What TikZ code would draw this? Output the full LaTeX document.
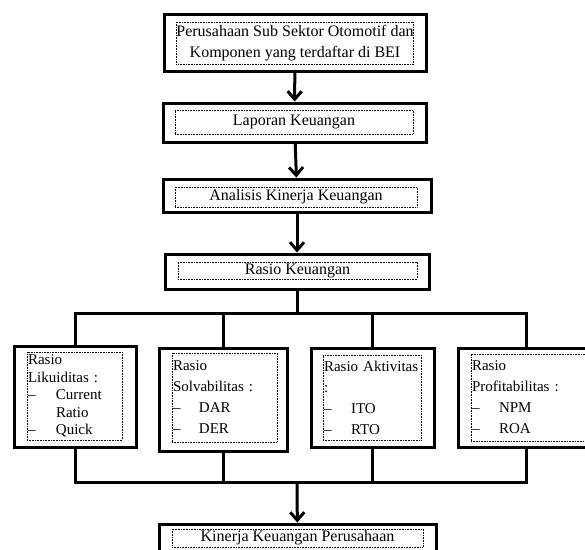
\documentclass[tikz,border=0pt]{standalone}
\usepackage{fontspec}
\setmainfont{Liberation Serif}
\usepackage{tikz}
\usetikzlibrary{arrows.meta, positioning}

\begin{document}
\begin{tikzpicture}[
    x=1pt, y=-1pt,
    frame/.style={draw, line width=3pt, inner sep=0pt},
    label/.style={draw, densely dotted, line width=0.6pt, inner sep=0pt,
                  align=center, font=\fontsize{16}{21}\selectfont},
    ratio/.style={draw, densely dotted, line width=0.6pt, inner xsep=1pt,
                  inner ysep=0pt, align=left, font=\fontsize{15}{21}\selectfont},
    conn/.style={line width=3pt},
    >={Straight Barb[length=8pt, width=14pt]}
  ]
    \useasboundingbox (0,0) rectangle (585,549);
    \clip (0,0) rectangle (585,549);

    \node[frame, minimum width=262pt, minimum height=57pt] (emiten) at (295,42.5) {};
    \node[label, minimum width=236pt, minimum height=42pt] (emitentxt) at (295,43)
      {Perusahaan Sub Sektor Otomotif dan\\Komponen yang terdaftar di BEI};

    \node[frame, minimum width=263pt, minimum height=39pt] (laporan) at (294.5,122.5) {};
    \node[label, minimum width=238pt, minimum height=24pt] (laporantxt) at (294,122)
      {Laporan Keuangan};

    \node[frame, minimum width=268pt, minimum height=33pt] (analisis) at (297,195.5) {};
    \node[label, minimum width=242pt, minimum height=20pt] (analisistxt) at (296,197)
      {Analisis Kinerja Keuangan};

    \node[frame, minimum width=264pt, minimum height=35pt] (rasio) at (297,271.5) {};
    \node[label, minimum width=239pt, minimum height=17pt] (rasiotxt) at (297.5,270.5)
      {Rasio Keuangan};

    \node[frame, minimum width=122pt, minimum height=101pt] (likuid) at (75,396.5) {};
    \node[ratio, text width=93pt, minimum height=88pt,
          font=\fontsize{15}{17.5}\selectfont] (likuidtxt) at (74.5,396)
      {Rasio\\Likuiditas :\\\makebox[28pt][l]{–}Current\\\hspace*{28pt}Ratio\\\makebox[28pt][l]{–}Quick};

    \node[frame, minimum width=128pt, minimum height=103pt] (solva) at (223,399.5) {};
    \node[ratio, text width=103pt, minimum height=89pt] (solvatxt) at (224.5,397.5)
      {Rasio\\Solvabilitas :\\\makebox[26pt][l]{–}DAR\\\makebox[26pt][l]{–}DER};

    \node[frame, minimum width=123pt, minimum height=99pt] (aktiv) at (372.5,397.5) {};
    \node[ratio, text width=96pt, minimum height=85pt] (aktivtxt) at (372,397.5)
      {Rasio Aktivitas\\:\\\makebox[27pt][l]{–}ITO\\\makebox[27pt][l]{–}RTO};

    \node[frame, minimum width=137pt, minimum height=99pt] (profit) at (526.5,397.5) {};
    \node[ratio, text width=113pt, minimum height=87pt] (profittxt) at (528.5,397.5)
      {Rasio\\Profitabilitas :\\\makebox[27pt][l]{–}NPM\\\makebox[27pt][l]{–}ROA};

    \node[frame, minimum width=277pt, minimum height=40pt] (kinerja) at (297.5,544) {};
    \node[label, minimum width=251pt, minimum height=18pt] (kinerjatxt) at (297.5,538)
      {Kinerja Keuangan Perusahaan};

    \coordinate (bustop) at (297,313);
    \coordinate (busbot) at (297,482);

    \draw[conn, ->] (emiten) -- (laporan);
    \draw[conn, ->] (laporan) -- (analisis);
    \draw[conn, ->] (analisis.south) -- (analisis.south |- rasio.north);
    \draw[conn] (rasio) -- (bustop);
    \draw[conn] (likuid.north) |- (bustop) -| (profit.north);
    \draw[conn] (solva.north) -- (solva.north |- bustop);
    \draw[conn] (aktiv.north) -- (aktiv.north |- bustop);
    \draw[conn] (likuid.south) |- (busbot) -| (profit.south);
    \draw[conn] (solva.south) -- (solva.south |- busbot);
    \draw[conn] (aktiv.south) -- (aktiv.south |- busbot);
    \draw[conn, ->] (busbot) -- (kinerja);
  \end{tikzpicture}
\end{document}
